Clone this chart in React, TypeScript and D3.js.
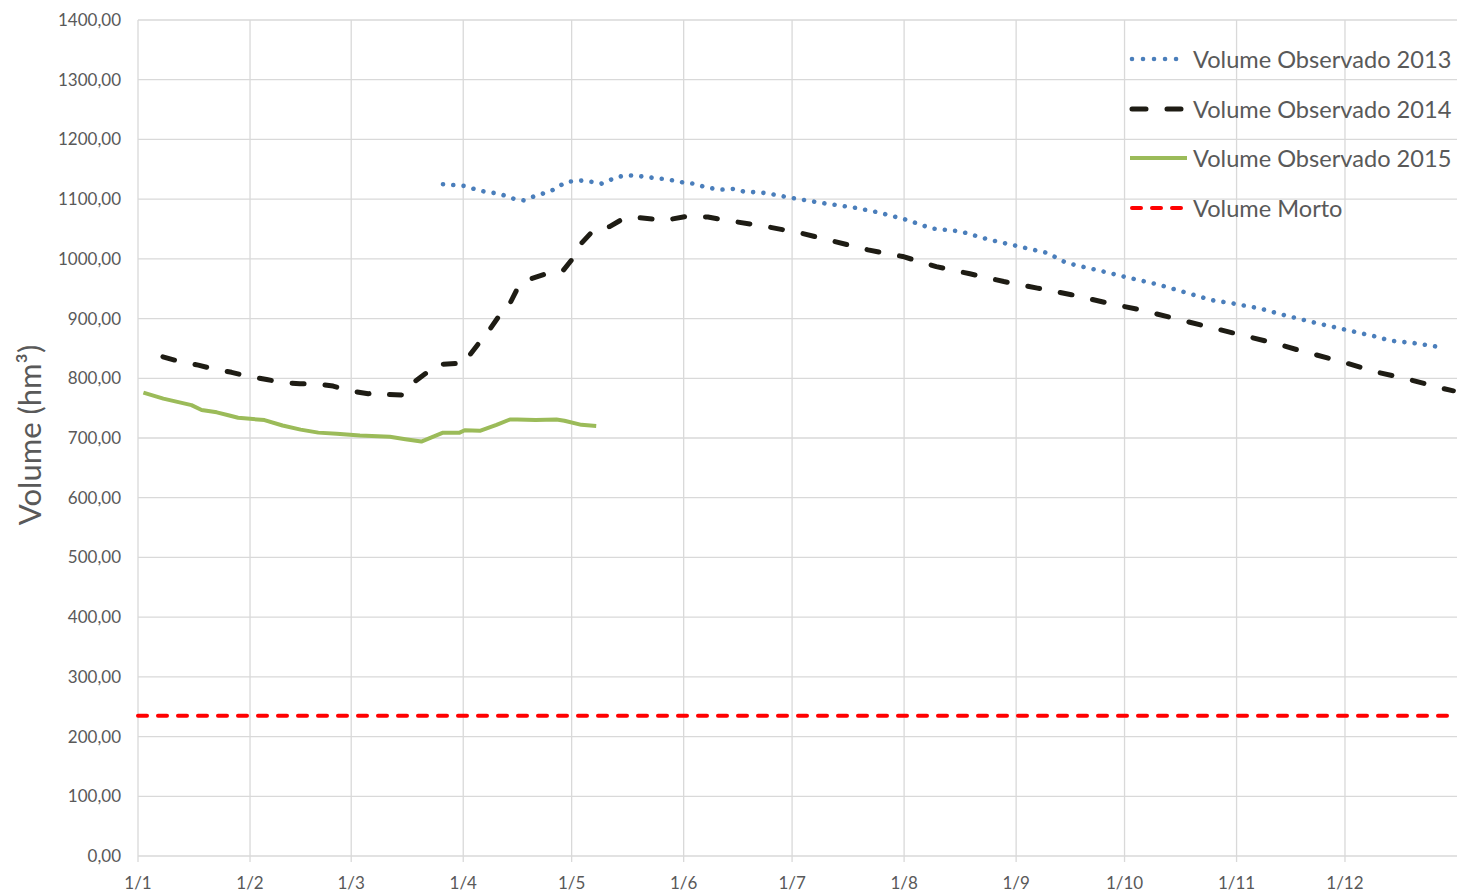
import React from "react";
import * as d3 from "d3";

// Day of year (0 = 1 Jan) and volume (hm³)
const days2013 = [84.4, 90.4, 94.6, 100, 104.3, 106.7, 109.3, 114.4, 118.6, 122.7, 125.5, 128.2, 129.6, 132.4, 135.6, 139.6, 143.4, 146.7, 150.8, 153.6, 157.7, 161.4, 164.6, 167.4, 174, 180, 188.8, 198, 204.8, 212.9, 219.6, 227.6, 235.6, 243.6, 251.6, 257, 266.3, 273, 282.3, 290.3, 297, 302.4, 310.4, 317, 326.4, 334.4, 342.5, 346.5, 353.1, 360.5];
const vol2013 = [1125, 1122, 1114, 1109, 1100, 1098, 1104, 1114, 1129, 1131, 1129, 1126, 1129, 1137, 1140, 1138, 1135, 1133, 1128, 1126, 1119, 1116, 1117, 1113, 1110, 1103, 1094, 1086, 1078, 1065, 1051, 1046, 1032, 1021, 1010, 993, 980, 970, 957, 943, 931, 926, 917, 906, 892, 881, 870, 863, 859, 852];

const days2014 = [6.9, 11.6, 16.7, 21.3, 25.9, 30.5, 35.6, 39.7, 44.8, 49, 54, 58.6, 63.7, 66, 68.3, 73.4, 76, 79.8, 82.6, 88.6, 90.9, 91.8, 94.6, 96.9, 100.1, 102.9, 105.2, 108.4, 113.5, 117.6, 120.9, 122.7, 125.9, 130.5, 134.2, 138.4, 143.9, 145.7, 148, 152.7, 157.7, 163.4, 174, 183.5, 192.8, 202, 211.6, 220.9, 230.2, 239.6, 248.9, 258.3, 267.6, 277, 286.3, 295.6, 305, 314.4, 322.4, 333, 342.4, 351.8, 361, 364];
const vol2014 = [836, 828, 822, 815, 810, 803, 798, 793, 791, 791, 787, 779, 774, 777, 773, 772, 792, 809, 823, 825, 826, 839, 861, 878, 906, 925, 953, 966, 976, 980, 1005, 1026, 1047, 1054, 1067, 1069, 1066, 1064, 1067, 1072, 1070, 1064, 1054, 1043, 1029, 1015, 1004, 987, 975, 962, 951, 940, 927, 915, 901, 887, 873, 859, 845, 828, 811, 798, 783, 779];

const days2015 = [1.5, 7, 14.8, 17.6, 21.8, 25, 27.7, 35, 40, 45, 49.9, 55, 61.4, 69.7, 74, 78.4, 84.4, 89, 90.4, 94.6, 99.2, 102.9, 105, 110, 115.8, 118, 122.7, 126.8];
const vol2015 = [776, 766, 755, 747, 743, 738, 734, 730, 721, 714, 709, 707, 704, 702, 698, 694, 709, 709, 713, 712, 722, 731, 731, 730, 731, 729, 722, 720];

const deadVolume = 235;
const deadDays = [0, 365];

const monthStarts = [0, 31, 59, 90, 120, 151, 181, 212, 243, 273, 304, 334];
const monthLabels = ["1/1", "1/2", "1/3", "1/4", "1/5", "1/6", "1/7", "1/8", "1/9", "1/10", "1/11", "1/12"];
const yTicks = [0, 100, 200, 300, 400, 500, 600, 700, 800, 900, 1000, 1100, 1200, 1300, 1400];

const seriesNames = ["Volume Observado 2013", "Volume Observado 2014", "Volume Observado 2015", "Volume Morto"];

const FONT = "Lato, 'Open Sans', sans-serif";
const TEXT = "#595959";
const GRID = "#d9d9d9";

const styles = [
  { color: "#4a7ebb", width: 4.6, dash: "0.01 10.3" },
  { color: "#1e1c14", width: 5, dash: "12 21" },
  { color: "#9bbb59", width: 4, dash: "" },
  { color: "#ff0000", width: 4, dash: "9 11" },
];

export default function App() {
  const W = 1458, H = 892;
  const left = 138, right = 1457, top = 20, bottom = 856;
  const x = d3.scaleLinear().domain([0, 365]).range([left, right]);
  const y = d3.scaleLinear().domain([0, 1400]).range([bottom, top]);
  const line = d3.line<[number, number]>().x(d => x(d[0])).y(d => y(d[1]));
  const zip = (a: number[], b: number[]) => a.map((v, i) => [v, b[i]] as [number, number]);

  const series = [
    zip(days2013, vol2013),
    zip(days2014, vol2014),
    zip(days2015, vol2015),
    deadDays.map(d => [d, deadVolume] as [number, number]),
  ];

  const fmt = (v: number) => v.toFixed(2).replace(".", ",");
  const legendX = 1130, legendY = [59, 109, 158, 208];

  return (
    <svg width={W} height={H} style={{ position: "absolute", left: 0, top: 0, background: "#fff" }} fontFamily={FONT}>
      <rect x={0} y={0} width={W} height={H} fill="#fff" />
      {yTicks.map(t => (
        <line key={"h" + t} x1={left} x2={right} y1={y(t)} y2={y(t)} stroke={GRID} strokeWidth={1.3} />
      ))}
      {monthStarts.map(m => (
        <line key={"v" + m} x1={x(m)} x2={x(m)} y1={top} y2={bottom + 6} stroke={GRID} strokeWidth={1.3} />
      ))}
      {yTicks.map(t => (
        <text key={"yl" + t} x={121} y={y(t)} dy="0.35em" textAnchor="end" fontSize={17} fill={TEXT}>{fmt(t)}</text>
      ))}
      {monthStarts.map((m, i) => (
        <text key={"xl" + m} x={x(m)} y={889} textAnchor="middle" fontSize={17} fill={TEXT}>{monthLabels[i]}</text>
      ))}
      <text transform={`translate(41,435) rotate(-90)`} textAnchor="middle" fontSize={31} fill={TEXT}>
        Volume (hm³)
      </text>
      {[3, 1, 0, 2].map(i => (
        <path key={"s" + i} d={line(series[i]) || ""} fill="none" stroke={styles[i].color} strokeWidth={styles[i].width}
          strokeDasharray={styles[i].dash || undefined} strokeLinecap={styles[i].dash ? "round" : "butt"} strokeLinejoin="round" />
      ))}
      {seriesNames.map((n, i) => (
        <g key={"lg" + i}>
          <line x1={legendX + (i === 2 ? 0 : 2)} x2={legendX + 57} y1={legendY[i]} y2={legendY[i]} stroke={styles[i].color}
            strokeWidth={styles[i].width} strokeDasharray={i === 1 ? "14 21" : i === 0 ? "0.01 11" : styles[i].dash || undefined}
            strokeLinecap={styles[i].dash ? "round" : "butt"} />
          <text x={1193} y={legendY[i] + 8.5} fontSize={23.6} fill={TEXT}>{n}</text>
        </g>
      ))}
    </svg>
  );
}
